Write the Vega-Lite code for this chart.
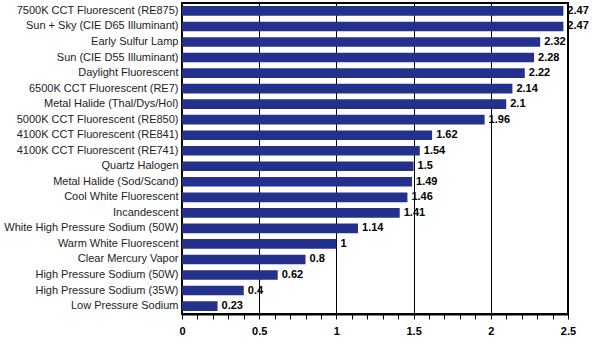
{
  "$schema": "https://vega.github.io/schema/vega-lite/v6.json",
  "width": 386,
  "height": 311,
  "autosize": {"type": "none"},
  "padding": {"left": 182, "top": 3, "right": 28, "bottom": 39},
  "background": "white",
  "config": {
    "font": "Liberation Sans",
    "view": {"stroke": "black", "strokeWidth": 2}
  },
  "data": {
    "values": [
      {"lamp": "7500K CCT Fluorescent (RE875)", "value": 2.47},
      {"lamp": "Sun + Sky (CIE D65 Illuminant)", "value": 2.47},
      {"lamp": "Early Sulfur Lamp", "value": 2.32},
      {"lamp": "Sun (CIE D55 Illuminant)", "value": 2.28},
      {"lamp": "Daylight Fluorescent", "value": 2.22},
      {"lamp": "6500K CCT Fluorescent (RE7)", "value": 2.14},
      {"lamp": "Metal Halide (Thal/Dys/Hol)", "value": 2.1},
      {"lamp": "5000K CCT Fluorescent (RE850)", "value": 1.96},
      {"lamp": "4100K CCT Fluorescent (RE841)", "value": 1.62},
      {"lamp": "4100K CCT Fluorescent (RE741)", "value": 1.54},
      {"lamp": "Quartz Halogen", "value": 1.5},
      {"lamp": "Metal Halide (Sod/Scand)", "value": 1.49},
      {"lamp": "Cool White Fluorescent", "value": 1.46},
      {"lamp": "Incandescent", "value": 1.41},
      {"lamp": "White High Pressure Sodium (50W)", "value": 1.14},
      {"lamp": "Warm White Fluorescent", "value": 1},
      {"lamp": "Clear Mercury Vapor", "value": 0.8},
      {"lamp": "High Pressure Sodium (50W)", "value": 0.62},
      {"lamp": "High Pressure Sodium (35W)", "value": 0.4},
      {"lamp": "Low Pressure Sodium", "value": 0.23}
    ]
  },
  "encoding": {
    "y": {
      "field": "lamp",
      "type": "nominal",
      "sort": null,
      "scale": {"paddingInner": 0.38, "paddingOuter": 0.2},
      "axis": {
        "title": null,
        "ticks": false,
        "domain": false,
        "labelFontSize": 11,
        "labelColor": "#222",
        "labelPadding": 4,
        "labelLimit": 200
      }
    },
    "x": {
      "field": "value",
      "type": "quantitative",
      "scale": {"domain": [0, 2.5], "nice": false},
      "axis": {
        "title": null,
        "values": [0, 0.1, 0.2, 0.3, 0.4, 0.5, 0.6, 0.7, 0.8, 0.9, 1, 1.1, 1.2, 1.3, 1.4, 1.5, 1.6, 1.7, 1.8, 1.9, 2, 2.1, 2.2, 2.3, 2.4, 2.5],
        "format": "~g",
        "labelExpr": "round(datum.value*10) % 5 == 0 ? datum.label : ''",
        "labelFontSize": 11,
        "labelFontWeight": "bold",
        "labelColor": "black",
        "labelPadding": 6,
        "labelFlush": false,
        "tickColor": "black",
        "tickSize": 5,
        "domainColor": "black",
        "domainWidth": 2,
        "grid": true,
        "gridColor": "black",
        "gridWidth": 1,
        "gridOpacity": {"condition": {"test": "round(datum.value*10) % 5 == 0", "value": 1}, "value": 0}
      }
    }
  },
  "layer": [
    {"mark": {"type": "bar", "color": "#23308c"}},
    {
      "mark": {"type": "text", "align": "left", "dx": 4, "fontSize": 11, "fontWeight": "bold", "color": "black"},
      "encoding": {"text": {"field": "value", "type": "quantitative", "format": "~g"}}
    }
  ]
}
